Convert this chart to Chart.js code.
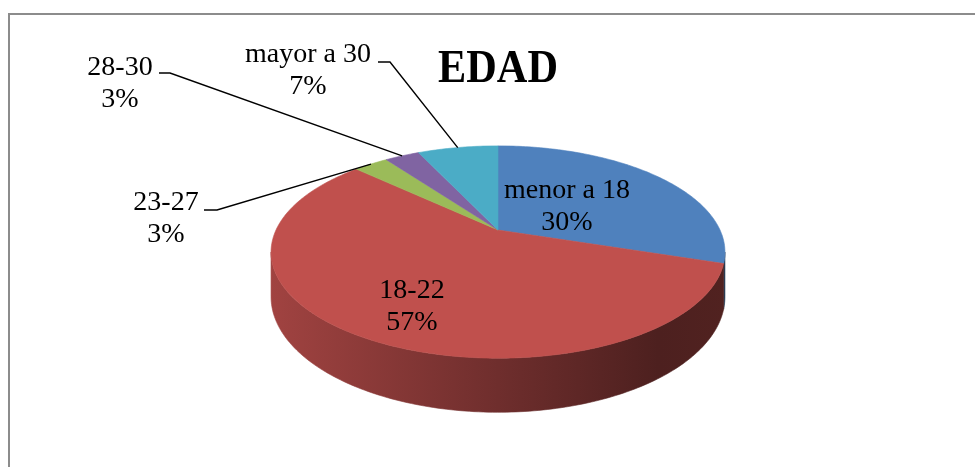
<!DOCTYPE html>
<html lang="es">
<head>
<meta charset="UTF-8">
<title>EDAD</title>
<style>
   html, body { margin: 0; padding: 0; background: #fff; }
   #wrap { width: 975px; height: 467px; }
</style>
<script src="https://cdn.jsdelivr.net/npm/chart.js@4.4.0/dist/chart.umd.min.js"></script>
</head>
<body>
<div id="wrap"><canvas id="edad" width="975" height="467"></canvas></div>
<script>
   // datos
   const categories = ['menor a 18', '18-22', '23-27', '28-30', 'mayor a 30'];
   const percentages = [30, 57, 3, 3, 7];

   const sliceColors = ['#4F81BD', '#C0504D', '#9BBB59', '#8064A2', '#4BACC6'];
   const sideRgb = [[79, 129, 189], [192, 80, 77], [155, 187, 89], [128, 100, 162], [75, 172, 198]];

   // where excel put each label (center x, first baseline) + leader line start
   const labelPos = [
      { x: 567, y: 198 },
      { x: 412, y: 298 },
      { x: 166, y: 210, lead: [[204, 210], [217, 210]] },
      { x: 120, y: 75, lead: [[159, 73], [170, 73]] },
      { x: 308, y: 62, lead: [[378, 62], [390, 62]] }
   ];

   const FONT = '"Liberation Serif", "Times New Roman", serif';
   // perspective settings for the fake 3d
   const tilt = 0.4576, persp = 0.2076, thick = 0.193;

   function projector(arc) {
      const cx = arc.x, cy = arc.y, R = arc.outerRadius;
      return (t, r) => {
         const u = r * Math.cos(t), v = r * Math.sin(t), w = 1 - persp * v;
         return { x: cx + R * u / w, y: cy + R * tilt * v / w, d: R * thick / w };
      };
   }

   const frame = {
      id: 'frame',
      beforeDraw(chart) {
         const ctx = chart.ctx;
         ctx.save();
         ctx.strokeStyle = '#8c8c8c';
         ctx.lineWidth = 2;
         ctx.beginPath();
         ctx.moveTo(9, 467);
         ctx.lineTo(9, 14);
         ctx.lineTo(975, 14);
         ctx.stroke();
         ctx.restore();
      }
   };

   const pie3d = {
      id: 'pie3d',
      beforeDatasetsDraw(chart) {
         const ctx = chart.ctx;
         const arcs = chart.getDatasetMeta(0).data;
         const proj = projector(arcs[0]);
         const cx = arcs[0].x, R = arcs[0].outerRadius;
         // rim is only visible between the two silhouette points
         const edge = Math.asin(persp);
         ctx.save();
         arcs.forEach((arc, i) => {
            const s = Math.max(arc.startAngle, edge), e = Math.min(arc.endAngle, Math.PI - edge);
            if (e <= s) return;
            const c = sideRgb[i];
            const g = ctx.createLinearGradient(cx - R * 1.03, 0, cx + R * 1.03, 0);
            const shade = (f) => `rgb(${Math.round(c[0] * f)},${Math.round(c[1] * f)},${Math.round(c[2] * f)})`;
            g.addColorStop(0, shade(0.84));
            g.addColorStop(0.5, shade(0.58));
            g.addColorStop(0.85, shade(0.4));
            g.addColorStop(1, shade(0.42));
            const n = Math.max(4, Math.ceil((e - s) * 60));
            const top = [];
            for (let k = 0; k <= n; k++) top.push(proj(s + (e - s) * k / n, 1));
            ctx.beginPath();
            top.forEach((p, k) => k ? ctx.lineTo(p.x, p.y) : ctx.moveTo(p.x, p.y));
            for (let k = n; k >= 0; k--) ctx.lineTo(top[k].x, top[k].y + top[k].d);
            ctx.closePath();
            ctx.fillStyle = g;
            ctx.fill();
            ctx.strokeStyle = g;
            ctx.lineWidth = 0.6;
            ctx.stroke();
         });
         // top faces
         arcs.forEach((arc, i) => {
            const s = arc.startAngle, e = arc.endAngle;
            const n = Math.max(4, Math.ceil((e - s) * 60));
            const o = proj(0, 0);
            ctx.beginPath();
            ctx.moveTo(o.x, o.y);
            for (let k = 0; k <= n; k++) {
               const p = proj(s + (e - s) * k / n, 1);
               ctx.lineTo(p.x, p.y);
            }
            ctx.closePath();
            ctx.fillStyle = sliceColors[i];
            ctx.fill();
            ctx.strokeStyle = sliceColors[i];
            ctx.lineWidth = 0.6;
            ctx.stroke();
         });
         ctx.restore();
         return false;
      },
      afterDraw(chart) {
         const ctx = chart.ctx;
         const arcs = chart.getDatasetMeta(0).data;
         const proj = projector(arcs[0]);
         const total = percentages.reduce((a, b) => a + b, 0);
         ctx.save();
         ctx.fillStyle = '#000';
         ctx.textAlign = 'center';
         ctx.textBaseline = 'alphabetic';
         // title, squeezed a bit like the cambria original
         ctx.save();
         ctx.translate(498, 82);
         ctx.scale(0.9, 1);
         ctx.font = 'bold 47px ' + FONT;
         ctx.fillText('EDAD', 0, 0);
         ctx.restore();

         ctx.font = '28px ' + FONT;
         ctx.strokeStyle = '#000';
         ctx.lineWidth = 1.4;
         arcs.forEach((arc, i) => {
            const lp = labelPos[i];
            ctx.fillText(categories[i], lp.x, lp.y);
            ctx.fillText(Math.round(percentages[i] / total * 100) + '%', lp.x, lp.y + 32);
            if (lp.lead) {
               const mid = (arc.startAngle + arc.endAngle) / 2;
               const p = proj(mid, 1);
               ctx.beginPath();
               ctx.moveTo(lp.lead[0][0], lp.lead[0][1]);
               ctx.lineTo(lp.lead[1][0], lp.lead[1][1]);
               ctx.lineTo(p.x, p.y);
               ctx.stroke();
            }
         });
         ctx.restore();
      }
   };

   new Chart(document.getElementById('edad'), {
      type: 'pie',
      data: {
         labels: categories,
         datasets: [{
            data: percentages,
            backgroundColor: sliceColors,
            borderWidth: 0
         }]
      },
      options: {
         responsive: false,
         devicePixelRatio: 1,
         animation: false,
         layout: { padding: { left: 276, right: 255, top: 8, bottom: 15 } },
         plugins: {
            legend: { display: false },
            tooltip: { enabled: false }
         }
      },
      plugins: [frame, pie3d]
   });
</script>
</body>
</html>
